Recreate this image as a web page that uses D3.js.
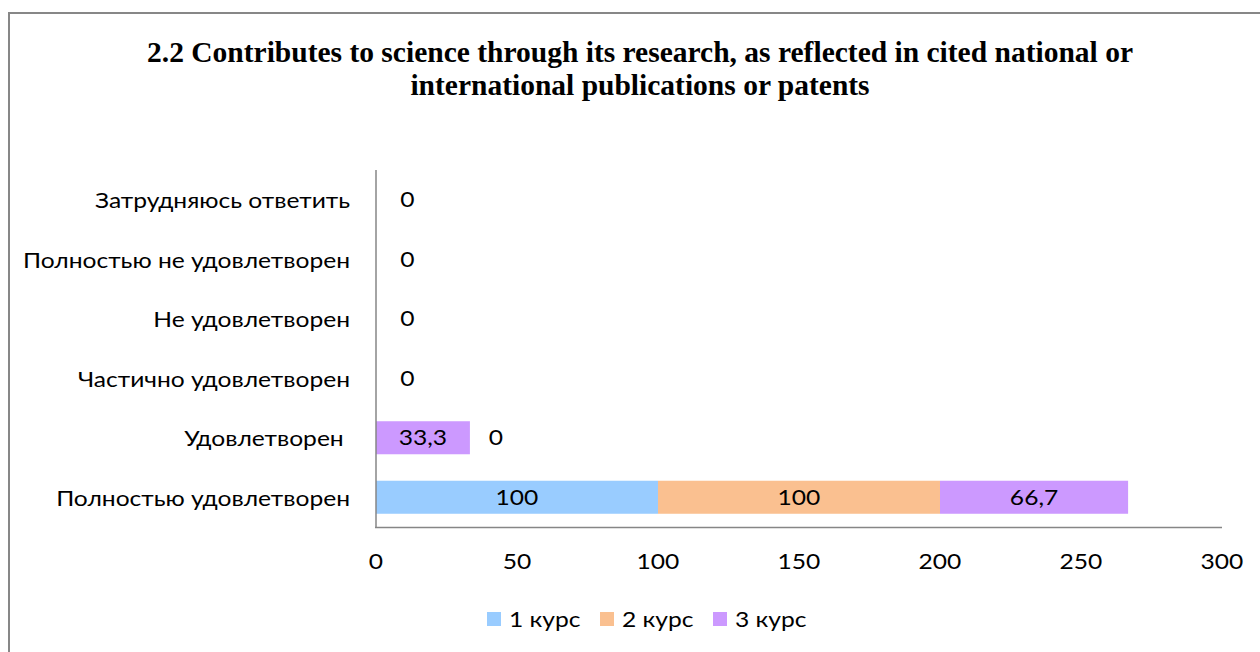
<!DOCTYPE html>
<html><head><meta charset="utf-8">
<script src="https://cdn.jsdelivr.net/npm/d3@7/dist/d3.min.js"></script>
<style>
html,body{margin:0;padding:0;background:#fff;}
svg{display:block;}
.lbl{font-family:"Lato","Open Sans",sans-serif;font-size:20.5px;fill:#000;}
</style></head>
<body>
<svg id="c" width="1260" height="652"></svg>
<script>
const categories = ["Затрудняюсь ответить","Полностью не удовлетворен","Не удовлетворен","Частично удовлетворен","Удовлетворен ","Полностью удовлетворен"];
const seriesNames = ["1 курс","2 курс","3 курс"];
const kurs1 = [0,0,0,0,0,100];
const kurs2 = [0,0,0,0,0,100];
const kurs3 = [0,0,0,0,33.3,66.7];
const xTicks = [0,50,100,150,200,250,300];
const titleLines = ["2.2 Contributes to science through its research, as reflected in cited national or","international publications or patents"];
const colors = ["#99CCFF","#FAC090","#CC99FF"];

const SX = 1.2; // horizontal stretch of label text to match reference
const svg = d3.select("#c");
svg.append("path").attr("d","M9,1000 V13 H1300").attr("fill","none").attr("stroke","#878787").attr("stroke-width",2);

svg.selectAll("text.title").data(titleLines).join("text")
  .attr("class","title").attr("x",640).attr("y",(d,i)=>62+i*32.5)
  .attr("text-anchor","middle").attr("font-family","'Liberation Serif','Times New Roman',serif")
  .attr("font-weight","bold").attr("font-size",29.5).attr("fill","#000").text(d=>d);

const x = d3.scaleLinear().domain([0,300]).range([376,1222]);
const y = d3.scaleBand().domain(categories).range([170,527]).paddingInner(0.445).paddingOuter(0.2225);
const cy = c => y(c)+y.bandwidth()/2;

const rows = categories.map((c,i)=>({cat:c, "1 курс":kurs1[i], "2 курс":kurs2[i], "3 курс":kurs3[i]}));
const stacked = d3.stack().keys(seriesNames)(rows);
const fmt = v => String(v).replace(".",",");

function stretchedText(sel, xf, yf, anchor){
  return sel.attr("class","lbl").attr("text-anchor",anchor)
    .attr("transform",(d,i)=>`translate(${xf(d,i)},${yf(d,i)}) scale(${SX},1)`);
}

stacked.forEach((s,si)=>{
  const key = seriesNames[si];
  svg.append("g").selectAll("rect").data(s).join("rect")
    .attr("x",d=>x(d[0])).attr("width",d=>x(d[1])-x(d[0]))
    .attr("y",d=>y(d.data.cat)).attr("height",y.bandwidth())
    .attr("fill",colors[si]);
  stretchedText(svg.append("g").selectAll("text").data(s.filter(d=>d.data[key]>0)).join("text"),
    d=>(x(d[0])+x(d[1]))/2, d=>cy(d.data.cat)+7.5, "middle")
    .text(d=>fmt(d.data[key]));
});
const total = r => d3.sum(seriesNames,k=>r[k]);
const zeroRows = rows.filter(r=>seriesNames.some(k=>r[k]===0));
stretchedText(svg.append("g").selectAll("text").data(zeroRows).join("text"),
  r=>x(total(r)) + (total(r)>0?26:31.5), r=>cy(r.cat)+7.5, "middle").text("0");

svg.append("line").attr("x1",376).attr("x2",376).attr("y1",170).attr("y2",528).attr("stroke","#868686").attr("stroke-width",1.5);
svg.append("line").attr("x1",375).attr("x2",1222).attr("y1",527.5).attr("y2",527.5).attr("stroke","#868686").attr("stroke-width",1.5);

stretchedText(svg.append("g").selectAll("text").data(categories).join("text"),
  d=>350, d=>cy(d)+8.5, "end").style("white-space","pre").text(d=>d);

stretchedText(svg.append("g").selectAll("text").data(xTicks).join("text"),
  d=>x(d), d=>569, "middle").text(d=>d);

const legX = [487,600,713];
const lg = svg.append("g").selectAll("g").data(seriesNames).join("g")
  .attr("transform",(d,i)=>`translate(${legX[i]},612)`);
lg.append("rect").attr("width",14).attr("height",14).attr("fill",(d,i)=>colors[i]);
lg.append("text").attr("class","lbl").attr("transform",`translate(22,14.8) scale(${SX},1)`).text(d=>d);
</script>
</body></html>
